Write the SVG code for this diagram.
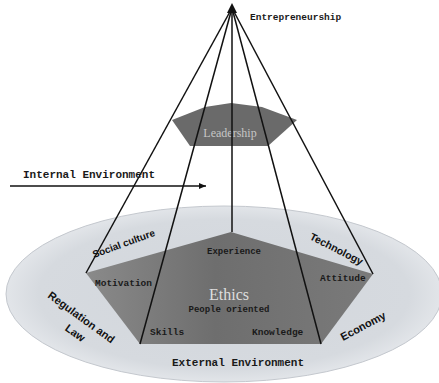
<svg xmlns="http://www.w3.org/2000/svg" width="439" height="383" viewBox="0 0 439 383">
<defs>
<linearGradient id="pg" x1="0" y1="0" x2="1" y2="0">
<stop offset="0" stop-color="#8a8a8a"/>
<stop offset="0.45" stop-color="#6e6e6e"/>
<stop offset="1" stop-color="#7a7a7a"/>
</linearGradient>
<radialGradient id="eg" cx="0.5" cy="0.5" r="0.5">
<stop offset="0" stop-color="#d2d6dc"/>
<stop offset="0.85" stop-color="#d6dadf"/>
<stop offset="1" stop-color="#e2e5e9"/>
</radialGradient>
<marker id="ah" markerWidth="8" markerHeight="8" refX="7" refY="4" orient="auto" markerUnits="userSpaceOnUse">
<path d="M0,1 L7,4 L0,7 Z" fill="#111"/>
</marker>
</defs>
<style>
.cone{stroke:#111;stroke-width:1.5;fill:none}
.mono{font-family:"Liberation Mono","DejaVu Sans Mono",monospace;font-weight:bold;fill:#1a1a1a}
.sans{font-family:"Liberation Sans",Arial,sans-serif;font-weight:bold;fill:#111}
.serif{font-family:"Liberation Serif","Times New Roman",serif}
</style>
<rect width="439" height="383" fill="#ffffff"/>
<g id="external-environment">
<ellipse cx="224" cy="294" rx="218" ry="88" fill="url(#eg)" stroke="#c4c8ce" stroke-width="1"/>
<text class="mono" x="238" y="366" font-size="11" text-anchor="middle">External Environment</text>
</g>
<g id="ethics">
<polygon points="231,232 373,274 321,344 140,344 86,273" fill="url(#pg)"/>
<text class="serif" x="229" y="300" font-size="16" text-anchor="middle" fill="#dedede">Ethics</text>
<text class="mono" x="229" y="312" font-size="9" text-anchor="middle">People oriented</text>
<text class="mono" x="234" y="254" font-size="9" text-anchor="middle">Experience</text>
<text class="mono" x="95" y="286" font-size="9.5">Motivation</text>
<text class="mono" x="320" y="281" font-size="9.5">Attitude</text>
<text class="mono" x="150" y="335" font-size="9.5">Skills</text>
<text class="mono" x="252" y="335" font-size="9.5">Knowledge</text>
</g>
<g id="leadership">
<polygon points="172,120 205,107 231,103 262,107 297,120 268,146 190,146" fill="#6a6a6a"/>
<text class="serif" x="230" y="137" font-size="12" text-anchor="middle" fill="#c6c6c6">Leadership</text>
</g>
<g id="connectors">
<line class="cone" x1="232" y1="8" x2="86" y2="273"/>
<line class="cone" x1="232" y1="8" x2="140" y2="344"/>
<line class="cone" x1="232" y1="8" x2="232" y2="232"/>
<line class="cone" x1="232" y1="8" x2="321" y2="344"/>
<line class="cone" x1="232" y1="8" x2="373" y2="274"/>
<polygon points="232,3 237,13 227,13" fill="#111"/>
<line x1="10" y1="186" x2="206" y2="186" stroke="#111" stroke-width="1.3" marker-end="url(#ah)"/>
</g>
<g id="entrepreneurship">
<text class="mono" x="250" y="20" font-size="9.5">Entrepreneurship</text>
</g>
<g id="internal-environment">
<text class="mono" x="23" y="178" font-size="11">Internal Environment</text>
</g>
<g id="external-factors">
<text class="sans" font-size="10" transform="translate(94,258) rotate(-20)">Social culture</text>
<text class="sans" font-size="10.5" transform="translate(309,239) rotate(27)">Technology</text>
<text class="sans" font-size="11" transform="translate(47,297) rotate(36)">Regulation and</text>
<text class="sans" font-size="11" text-anchor="middle" transform="translate(73,336) rotate(36)">Law</text>
<text class="sans" font-size="11" transform="translate(343,341) rotate(-28)">Economy</text>
</g>
</svg>
